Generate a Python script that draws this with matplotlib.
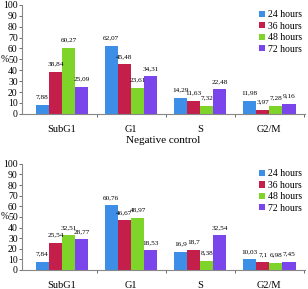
import numpy as np
import matplotlib
matplotlib.use("Agg")
import matplotlib.pyplot as plt

# data
phases = ["SubG1", "G1", "S", "G2/M"]
series = ["24 hours", "36 hours", "48 hours", "72 hours"]
control = [[7.88, 62.07, 14.29, 11.98],
           [38.84, 45.48, 11.63, 3.97],
           [60.27, 23.61, 7.32, 7.28],
           [25.09, 34.31, 22.48, 9.16]]
treated = [[7.84, 60.76, 16.9, 10.03],
           [25.54, 46.67, 18.7, 7.1],
           [32.51, 48.97, 8.38, 6.98],
           [28.77, 18.53, 32.54, 7.45]]
yticks = [0, 10, 20, 30, 40, 50, 60, 70, 80, 90, 100]

colors = ["#3d8ee6", "#c41e4a", "#7fd42a", "#7b45ec"]

plt.rcParams["font.family"] = "Liberation Serif"

fig = plt.figure(figsize=(3.08, 2.89), dpi=100)
ax1 = fig.add_axes([0.071, 0.606, 0.92, 0.377])
ax2 = fig.add_axes([0.071, 0.066, 0.92, 0.367])

def fmt(v):
    s = ("%g" % v).replace(".", ",")
    return s

def draw(ax, data):
    x = np.arange(len(phases))
    w = 0.19
    for i in range(4):
        pos = x + (i - 1.5) * w
        ax.bar(pos, data[i], w, color=colors[i], label=series[i])
        for p, v in zip(pos, data[i]):
            ax.text(p, v + 5, fmt(v), ha="center", va="bottom", fontsize=5.2)
    ax.set_xlim(-0.58, 3.52)
    ax.set_ylim(0, 100)
    ax.set_yticks(yticks)
    ax.tick_params(axis="y", labelsize=7, length=2, width=0.6, pad=1, colors="#555555", labelcolor="black")
    ax.set_xticks(x)
    ax.set_xticklabels(phases, fontsize=7.5)
    ax.set_xticks([0.5, 1.5, 2.5, 3.5], minor=True)
    ax.tick_params(axis="x", which="major", length=0, pad=8)
    ax.tick_params(axis="x", which="minor", length=2, width=0.6, colors="#555555")
    for s in ["top", "right"]:
        ax.spines[s].set_visible(False)
    for s in ["left", "bottom"]:
        ax.spines[s].set_color("#888888")
        ax.spines[s].set_linewidth(0.8)
    ax.text(-0.06, 0.5, "%", transform=ax.transAxes, fontsize=7, ha="center", va="center")
    ax.legend(loc="upper right", bbox_to_anchor=(1.02, 1.03), frameon=False, fontsize=7,
              handlelength=0.6, handleheight=0.6, handletextpad=0.3, labelspacing=0.25)

draw(ax1, control)
draw(ax2, treated)
fig.text(0.53, 0.515, "Negative control", ha="center", va="center", fontsize=8)

fig.savefig("out.png", dpi=100)
